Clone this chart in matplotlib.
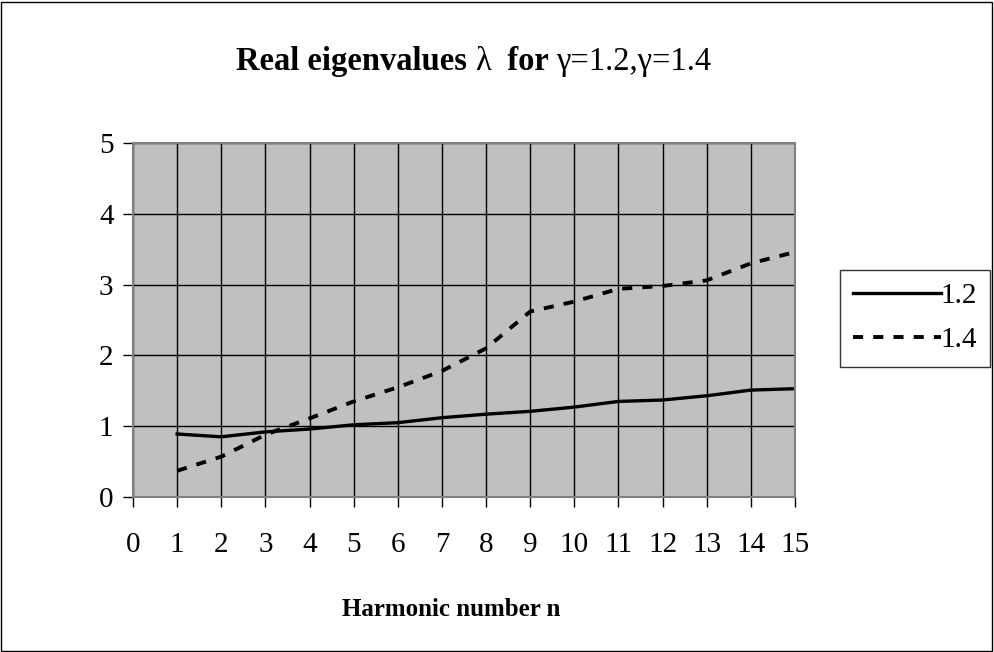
import numpy as np
import matplotlib
matplotlib.use("Agg")
import matplotlib.pyplot as plt

# harmonic numbers and eigenvalues
n = [1, 2, 3, 4, 5, 6, 7, 8, 9, 10, 11, 12, 13, 14, 15]
lam_12 = [0.89, 0.85, 0.92, 0.96, 1.02, 1.05, 1.12, 1.17, 1.21, 1.27, 1.35, 1.37, 1.43, 1.51, 1.53]
lam_14 = [0.37, 0.57, 0.88, 1.11, 1.35, 1.55, 1.78, 2.10, 2.62, 2.76, 2.94, 2.98, 3.06, 3.30, 3.46]
series_names = ["1.2", "1.4"]
title_parts = [("Real eigenvalues ", "bold"), ("λ", "normal"), ("  for ", "bold"), ("γ=1.2,γ=1.4", "normal")]

plt.rcParams['font.family'] = ['Liberation Serif', 'DejaVu Serif']

fig = plt.figure(figsize=(9.94, 6.52), dpi=100)
fig.patch.set_facecolor("white")
# frame round the whole chart
fig.patches.append(plt.Rectangle((0.001, 0.001), 0.997, 0.996, transform=fig.transFigure,
                                 fill=False, edgecolor="black", linewidth=1))

ax = fig.add_axes([0.1338, 0.2377, 0.6660, 0.5430])
ax.set_facecolor("#C0C0C0")

ax.plot(n, lam_12, color="black", linewidth=2.4, label=series_names[0])
ax.plot(n, lam_14, color="black", linewidth=2.8, linestyle=(0, (2.6, 2.6)), label=series_names[1])

ax.set_xlim(0, 15)
ax.set_ylim(0, 5)
ax.set_xticks(range(0, 16))
ax.set_yticks(range(0, 6))
ax.grid(True, color="black", linewidth=1)
ax.set_axisbelow(True)
for s in ax.spines.values():
    s.set_color("#808080")
    s.set_linewidth(1.5)
ax.tick_params(axis="both", direction="out", length=7, width=1, color="black", labelsize=21)
ax.tick_params(axis="x", pad=18)
ax.tick_params(axis="y", pad=7)

ax.set_xlabel("Harmonic number n", fontsize=18, fontweight="bold")
ax.xaxis.set_label_coords(0.48, -0.285)

# title made of bold and regular pieces, laid side by side and centred
fig.canvas.draw()
r = fig.canvas.get_renderer()
texts = []
for s, w in title_parts:
    t = fig.text(0, 0.905, s, ha="left", va="center", fontsize=23.5, fontweight=w)
    texts.append(t)
widths = [t.get_window_extent(r).width for t in texts]
x = 474 - sum(widths) / 2
for t, w in zip(texts, widths):
    t.set_x(x / fig.bbox.width)
    x += w

leg = ax.legend(loc="center left", bbox_to_anchor=(1.068, 0.505), frameon=True, fancybox=False,
                fontsize=21, handlelength=3.0, handletextpad=0.0, borderpad=0.45,
                labelspacing=0.6, borderaxespad=0)
leg.get_frame().set_edgecolor("black")
leg.get_frame().set_linewidth(1)

fig.savefig("out.png", dpi=100)
